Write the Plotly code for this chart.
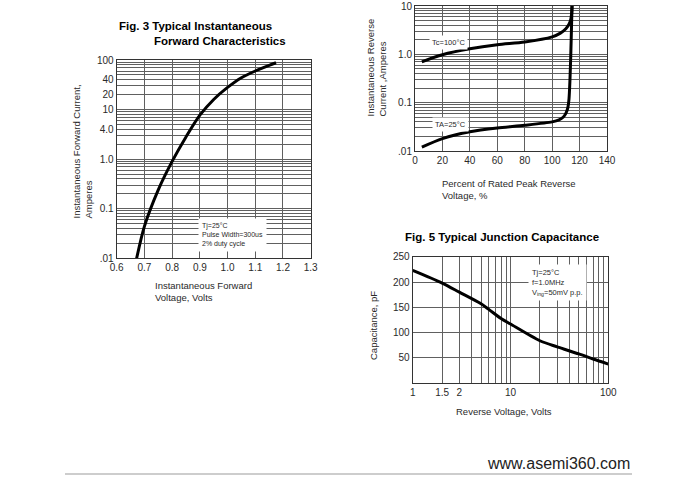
import plotly.graph_objects as go

# ---------------- data ----------------
# Fig. 3 forward characteristics
vf_volts = [0.672, 0.70, 0.75, 0.80, 0.85, 0.90, 0.95, 1.00, 1.05, 1.10, 1.15, 1.175]
if_amps = [0.01, 0.044, 0.24, 0.90, 2.8, 7.7, 16, 28, 44, 60, 78, 88]

# Fig. 4 reverse characteristics
pct_tc = [5, 20, 40, 60, 80, 100, 106, 110, 112.5, 113.6, 114.2, 114.5]
ir_tc = [0.70, 0.98, 1.30, 1.58, 1.80, 2.30, 2.75, 3.4, 4.3, 5.3, 7.0, 10]
pct_ta = [5, 20, 40, 60, 80, 100, 105, 108, 110, 111.5, 112.3, 113.0, 113.6, 114.1, 114.5]
ir_ta = [0.012, 0.018, 0.025, 0.030, 0.034, 0.040, 0.044, 0.050, 0.060, 0.080, 0.12, 0.30, 1.0, 3.5, 10]

# Fig. 5 junction capacitance
vr_volts = [1, 2, 3, 5, 6, 8, 10, 20, 30, 50, 70, 100]
cj_pf = [223, 198, 180, 157, 146, 128, 117, 84, 72, 58, 48, 38]

# tick labels
f3_x_ticks = [0.6, 0.7, 0.8, 0.9, 1.0, 1.1, 1.2, 1.3]
f3_x_text = ["0.6", "0.7", "0.8", "0.9", "1.0", "1.1", "1.2", "1.3"]
f3_y_ticks = [100, 40, 20, 10, 4, 1, 0.1, 0.01]
f3_y_text = ["100", "40", "20", "10", "4.0", "1.0", "0.1", ".01"]
f4_x_ticks = [0, 20, 40, 60, 80, 100, 120, 140]
f4_y_ticks = [10, 1, 0.1, 0.01]
f4_y_text = ["10", "1.0", "0.1", ".01"]
f5_x_ticks = [1, 2, 3, 10, 100]
f5_x_text = ["1", "1.5", "2", "10", "100"]
f5_y_ticks = [50, 100, 150, 200, 250]

# ---------------- helpers ----------------
W, H = 700, 482
FONT = "Liberation Sans, Arial, sans-serif"
GRID = "#606060"
BORDER = "#333333"
TXT = "#2a2a2a"


def px(x):
    return x / W


def py(y):
    return 1 - y / H


def log_grid(lo_exp, hi_exp):
    vals = []
    for e in range(lo_exp, hi_exp):
        for m in range(1, 10):
            vals.append(round(m * 10 ** e, 6))
    vals.append(round(10 ** hi_exp, 6))
    return vals


fig = go.Figure()
line_style = dict(color="black", width=3, shape="spline", smoothing=0.8)
fig.add_trace(go.Scatter(x=vf_volts, y=if_amps, mode="lines", line=line_style,
                         xaxis="x", yaxis="y", showlegend=False, hoverinfo="skip"))
fig.add_trace(go.Scatter(x=pct_tc, y=ir_tc, mode="lines", line=line_style,
                         xaxis="x2", yaxis="y2", showlegend=False, hoverinfo="skip"))
fig.add_trace(go.Scatter(x=pct_ta, y=ir_ta, mode="lines", line=line_style,
                         xaxis="x2", yaxis="y2", showlegend=False, hoverinfo="skip"))
fig.add_trace(go.Scatter(x=vr_volts, y=cj_pf, mode="lines", line=line_style,
                         xaxis="x3", yaxis="y3", showlegend=False, hoverinfo="skip"))

tickfont = dict(family=FONT, size=10, color=TXT)
common = dict(showline=True, linecolor=BORDER, linewidth=1, mirror=True,
              showgrid=True, gridcolor=GRID, gridwidth=1, ticks="",
              zeroline=False, tickfont=tickfont, fixedrange=True, automargin=False,
              tickmode="array")


def minor_grid(vals):
    return dict(tickmode="array", tickvals=vals, showgrid=True, gridcolor=GRID, gridwidth=1, ticks="")


fig.update_layout(
    width=W, height=H,
    margin=dict(l=0, r=0, t=0, b=0, pad=0, autoexpand=False),
    paper_bgcolor="white", plot_bgcolor="white",
    xaxis=dict(domain=[px(116.7), px(310.7)], anchor="y", range=[0.6, 1.3],
               tickvals=f3_x_ticks, ticktext=f3_x_text, **common),
    yaxis=dict(domain=[py(258.3), py(60)], anchor="x", type="log", range=[-2, 2],
               tickvals=f3_y_ticks, ticktext=f3_y_text, minor=minor_grid(log_grid(-2, 2)), **common),
    xaxis2=dict(domain=[px(415), px(607)], anchor="y2", range=[0, 140],
                tickvals=f4_x_ticks, ticktext=[str(v) for v in f4_x_ticks], **common),
    yaxis2=dict(domain=[py(151), py(6)], anchor="x2", type="log", range=[-2, 1],
                tickvals=f4_y_ticks, ticktext=f4_y_text, minor=minor_grid(log_grid(-2, 1)), **common),
    xaxis3=dict(domain=[px(412.7), px(608.3)], anchor="y3", type="log", range=[0, 2],
                tickvals=f5_x_ticks, ticktext=f5_x_text, minor=minor_grid(log_grid(0, 2)), **common),
    yaxis3=dict(domain=[py(383.3), py(256.7)], anchor="x3", range=[0, 250],
                tickvals=f5_y_ticks, ticktext=[str(v) for v in f5_y_ticks], **common),
)

ann = []
title_font = dict(family=FONT, size=11.5, color="black")
axis_font = dict(family=FONT, size=9.5, color=TXT)
small_font = dict(family=FONT, size=7, color=TXT)
label_font = dict(family=FONT, size=7.5, color=TXT)

# titles
ann.append(dict(text="<b>Fig. 3 Typical Instantaneous</b>", x=px(117), y=py(26), xanchor="left", yanchor="middle",
                font=title_font))
ann.append(dict(text="<b>Forward Characteristics</b>", x=px(152), y=py(40.7), xanchor="left", yanchor="middle",
                font=title_font))
ann.append(dict(text="<b>Fig. 5 Typical Junction Capacitance</b>", x=px(403), y=py(236.7), xanchor="left",
                yanchor="middle", font=title_font))

# axis titles
ann.append(dict(text="Instantaneous Forward Current,<br>Amperes", x=px(82.5), y=py(221), xanchor="center",
                yanchor="bottom", textangle=-90, align="left", font=axis_font))
ann.append(dict(text="Instantaneous Forward<br>Voltage, Volts", x=px(153), y=py(278), xanchor="left",
                yanchor="top", align="left", font=axis_font))
ann.append(dict(text="Instantaneous Reverse<br>Current ,Amperes", x=px(375.5), y=py(119), xanchor="center",
                yanchor="bottom", textangle=-90, align="left", font=axis_font))
ann.append(dict(text="Percent of Rated Peak Reverse<br>Voltage, %", x=px(440), y=py(176), xanchor="left",
                yanchor="top", align="left", font=axis_font))
ann.append(dict(text="Capacitance, pF", x=px(373), y=py(325), xanchor="center", yanchor="middle",
                textangle=-90, font=axis_font))
ann.append(dict(text="Reverse Voltage, Volts", x=px(504), y=py(411), xanchor="center", yanchor="middle",
                font=axis_font))

# in-plot notes
ann.append(dict(text="Tj=25°C<br>Pulse Width=300us<br>2% duty cycle", x=px(198), y=py(218), xanchor="left",
                yanchor="top", align="left", font=small_font, bgcolor="white", borderpad=3))
ann.append(dict(text="Tc=100°C", x=px(448), y=py(42), xanchor="center", yanchor="middle",
                font=label_font, bgcolor="white", borderpad=2))
ann.append(dict(text="TA=25°C", x=px(450), y=py(125), xanchor="center", yanchor="middle",
                font=label_font, bgcolor="white", borderpad=2))
ann.append(dict(text="Tj=25°C<br>f=1.0MHz<br>V<sub>ing</sub>=50mV p.p.", x=px(528), y=py(264), xanchor="left",
                yanchor="top", align="left", font=label_font, bgcolor="white", borderpad=3))

# footer
ann.append(dict(text="www.asemi360.com", x=px(632), y=py(463), xanchor="right", yanchor="middle",
                font=dict(family=FONT, size=16, color="#222222")))

for a in ann:
    a.setdefault("xref", "paper")
    a.setdefault("yref", "paper")
    a.setdefault("showarrow", False)
fig.update_layout(annotations=ann)

fig.add_shape(type="line", xref="paper", yref="paper", x0=px(65), x1=px(632), y0=py(474), y1=py(474),
              line=dict(color="#bdbdbd", width=1.5))

fig.write_html("out.html", config={"displayModeBar": False},
               post_script="document.body.style.margin='0px';")
